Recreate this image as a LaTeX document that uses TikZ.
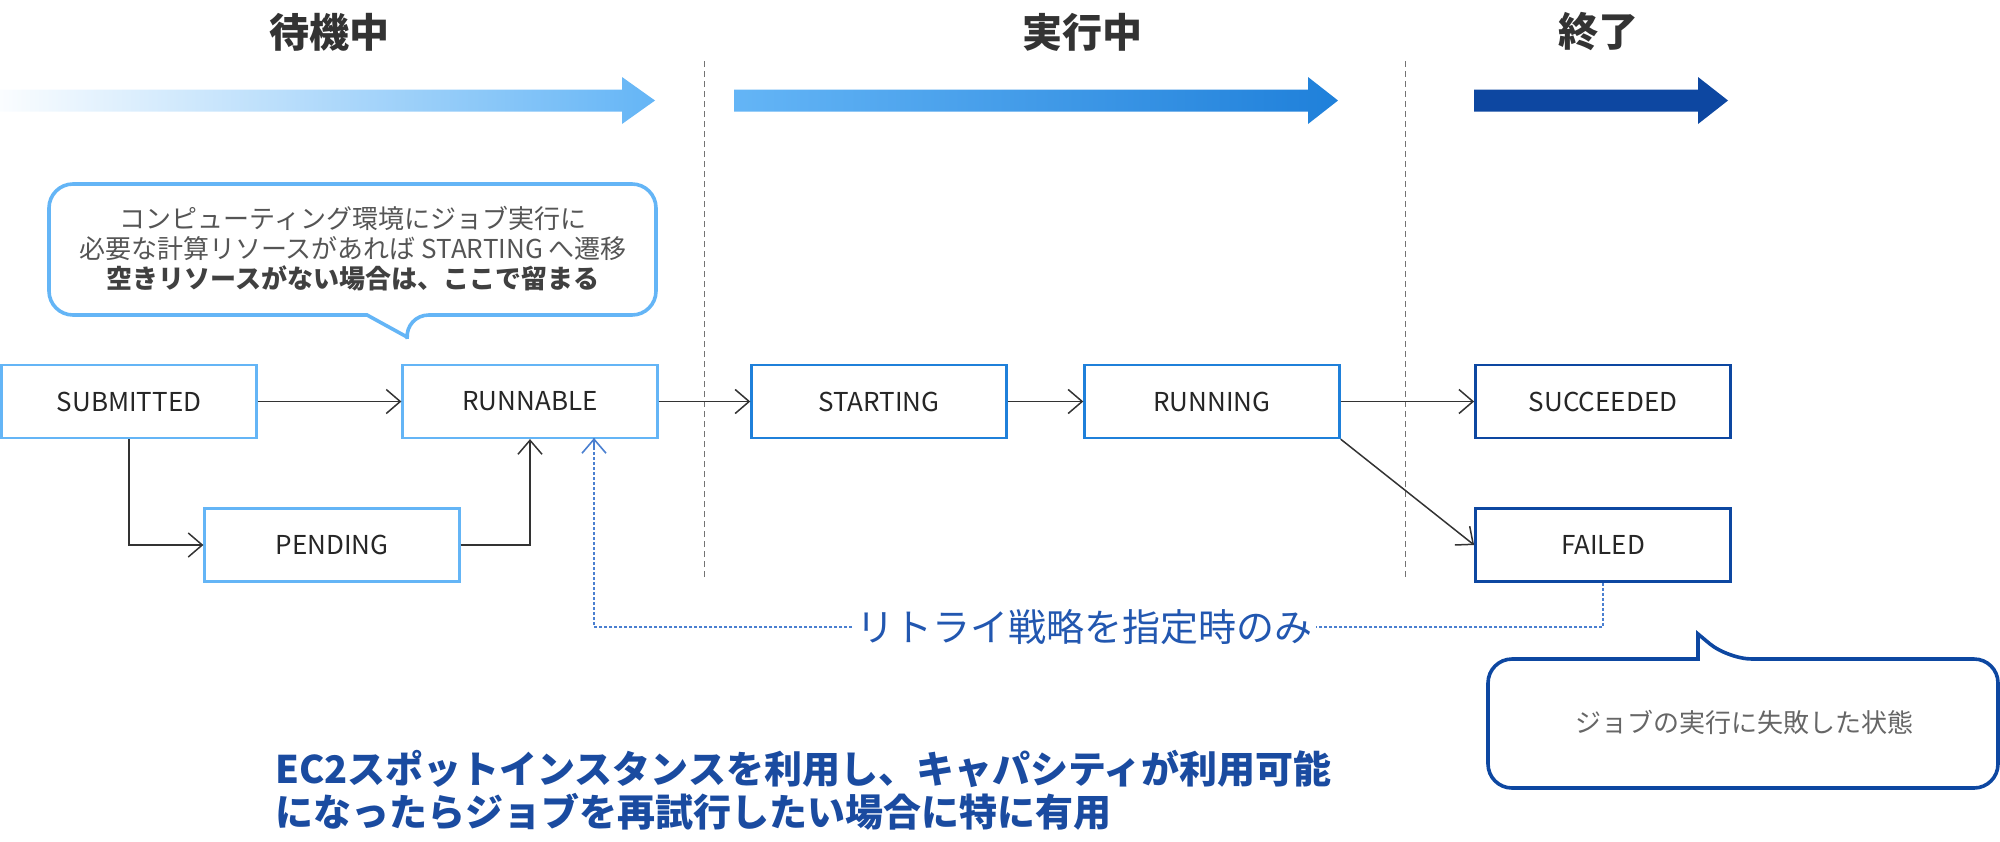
\documentclass[tikz,border=0pt]{standalone}
\usepackage{fontspec}
\setmainfont{Noto Sans CJK JP}
\usetikzlibrary{arrows.meta,calc}
\definecolor{lb}{HTML}{64B5F6}
\definecolor{mb}{HTML}{1F80DA}
\definecolor{db}{HTML}{0D47A1}
\definecolor{ttl}{HTML}{333333}
\definecolor{gtx}{HTML}{555555}
\definecolor{rtc}{HTML}{2257B0}
\definecolor{rtl}{HTML}{4A7FD0}
\definecolor{btx}{HTML}{1A4BA0}
\begin{document}
\begin{tikzpicture}[x=0.5pt,y=-0.5pt,
  title/.style={font=\fontsize{20pt}{24pt}\selectfont\bfseries, text=ttl},
  stbox/.style={draw, fill=white, minimum width=127.5pt, minimum height=36.5pt, inner sep=0pt,
    font=\fontsize{13pt}{16pt}\selectfont, text=black!85},
  lbox/.style={stbox, draw=lb, line width=1.1pt},
  mbox/.style={stbox, draw=mb, line width=1.2pt},
  dbox/.style={stbox, draw=db, line width=1.4pt},
  conn/.style={draw=black!80, line width=0.75pt, -{Straight Barb[length=7pt,width=12pt,line width=0.75pt]}},
  retry/.style={draw=rtl, line width=0.8pt, dash pattern=on 1.5pt off 1pt},
  phase/.style={draw=black!55, line width=0.5pt, dash pattern=on 3pt off 2pt},
  callout/.style={line width=1.8pt, fill=white}
]
\useasboundingbox (0,0) rectangle (2000,841);

% phase titles
\node[title] (t1) at (329,32) {待機中};
\node[title] (t2) at (1082,32) {実行中};
\node[title] (t3) at (1598,32) {終了};

% phase arrows
\shade[left color=lb!3, right color=lb] (0,89.5) -- (622,89.5) -- (622,77) -- (655,100.5) -- (622,124) -- (622,111.5) -- (0,111.5) -- cycle;
\shade[left color=lb, right color=mb] (734,89.5) -- (1308,89.5) -- (1308,77) -- (1338,100.5) -- (1308,124) -- (1308,111.5) -- (734,111.5) -- cycle;
\fill[db] (1474,89.5) -- (1698,89.5) -- (1698,77) -- (1728,100.5) -- (1698,124) -- (1698,111.5) -- (1474,111.5) -- cycle;

% phase separators
\draw[phase] (704,61) -- (704,580);
\draw[phase] (1405,61) -- (1405,580);

% callout 1
\draw[callout, draw=lb] (367,315) [rounded corners=12pt] -- (49,315) -- (49,184) -- (656,184) -- (656,315) -- (405,315) [sharp corners] -- (407,337) -- cycle;
\node[align=center, font=\fontsize{13pt}{15pt}\selectfont, text=gtx] (c1) at (353,249)
  {コンピューティング環境にジョブ実行に\\必要な計算リソースがあれば STARTING へ遷移\\{\bfseries\color{black!75}空きリソースがない場合は、ここで留まる}};

% state boxes
\node[lbox] (sub) at (129,401.5) {SUBMITTED};
\node[lbox] (run) at (530,401.5) {RUNNABLE};
\node[lbox] (pen) at (332,545) {PENDING};
\node[mbox] (sta) at (879,401.5) {STARTING};
\node[mbox] (rng) at (1212,401.5) {RUNNING};
\node[dbox] (suc) at (1603,401.5) {SUCCEEDED};
\node[dbox] (fai) at (1603,545) {FAILED};

% connectors
\draw[conn] (sub.east) -- (run.west);
\draw[conn] (sub.south) |- (pen.west);
\draw[conn] (pen.east) -| (run.south);
\draw[conn] (run.east) -- (sta.west);
\draw[conn] (sta.east) -- (rng.west);
\draw[conn] (rng.east) -- (suc.west);
\draw[conn] (rng.south east) -- (fai.west);

% retry path
\coordinate (rtop) at (594,438);
\coordinate (rcorner) at (594,627);
\draw[retry] (fai.south) |- (rcorner) -- (rtop);
\draw[draw=rtl, line width=0.8pt, -{Straight Barb[length=7pt,width=12pt,line width=0.8pt]}] (594,450) -- (rtop);
\node[fill=white, inner sep=2pt, font=\fontsize{19pt}{22pt}\selectfont, text=rtc] (rt) at (1084,627) {リトライ戦略を指定時のみ};

% callout 2
\draw[callout, draw=db] (1698,659) [rounded corners=12pt] -- (1488,659) -- (1488,788) -- (1998,788) -- (1998,659) -- (1728,659) [sharp corners] -- (1698,634) -- cycle;
\node[font=\fontsize{13pt}{15pt}\selectfont, text=black!60] (c2) at (1744,722) {ジョブの実行に失敗した状態};

% bottom note
\node[anchor=west, align=left, font=\fontsize{19pt}{21.5pt}\selectfont\bfseries, text=btx] (note) at (268,790.5)
  {EC2スポットインスタンスを利用し、キャパシティが利用可能\\になったらジョブを再試行したい場合に特に有用};
\end{tikzpicture}
\end{document}
